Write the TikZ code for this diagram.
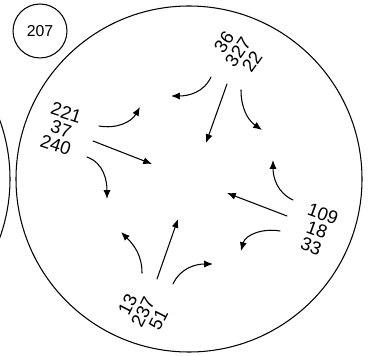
\documentclass[tikz,border=0pt]{standalone}
\usepackage{fontspec}
\setmainfont{Liberation Sans}
\usetikzlibrary{arrows.meta}
\tikzset{
  flow/.style={line width=0.6pt,-{Latex[length=5pt,width=4pt]}},
  lanes/.style={align=center,inner sep=0pt,font=\fontsize{10.5}{9.8}\selectfont},
}
\begin{document}
\begin{tikzpicture}[x=0.02cm,y=0.02cm,line cap=round,line join=round]
  \useasboundingbox (0,0) rectangle (375,355);
  \begin{scope}
    \clip (0,0) rectangle (375,355);
    \draw[line width=0.6pt] (-163,176) circle [radius=173];
  \end{scope}
  \draw[line width=0.6pt] (189,176) circle [radius=173];
  \node[circle,draw,line width=0.6pt,minimum size=1.08cm,inner sep=0pt,font=\fontsize{9}{9}\selectfont] (n207) at (40,324) {207};

  % approach labels
  \node[lanes,rotate=55] (north) at (238,303) {36\\327\\22};
  \node[lanes,rotate=-18] (west) at (61,226) {221\\37\\240};
  \node[lanes,rotate=-20] (east) at (317,125) {109\\18\\33};
  \node[lanes,rotate=63] (south) at (143,43) {13\\237\\51};

  % movement end points
  \coordinate (n1a) at (211,278); \coordinate (n1b) at (171,259);
  \coordinate (n2a) at (227,271); \coordinate (n2b) at (206,212);
  \coordinate (n3a) at (241,265); \coordinate (n3b) at (262,225);
  \coordinate (w1a) at (99,229);  \coordinate (w1b) at (140,248);
  \coordinate (w2a) at (93,214);  \coordinate (w2b) at (152,191);
  \coordinate (w3a) at (87,198);  \coordinate (w3b) at (107,156);
  \coordinate (e1a) at (293,155); \coordinate (e1b) at (273,195);
  \coordinate (e2a) at (287,139); \coordinate (e2b) at (227,162);
  \coordinate (e3a) at (280,124); \coordinate (e3b) at (241,104);
  \coordinate (s1a) at (142,82);  \coordinate (s1b) at (121,123);
  \coordinate (s2a) at (157,76);  \coordinate (s2b) at (178,136);
  \coordinate (s3a) at (173,71);  \coordinate (s3b) at (213,91);

  % movements
  \draw[flow] (n1a) to[out=-115,in=0] (n1b);
  \draw[flow] (n2a) -- (n2b);
  \draw[flow] (n3a) to[out=-90,in=145] (n3b);
  \draw[flow] (w1a) to[out=-10,in=-120] (w1b);
  \draw[flow] (w2a) -- (w2b);
  \draw[flow] (w3a) to[out=-20,in=90] (w3b);
  \draw[flow] (e1a) to[out=155,in=-90] (e1b);
  \draw[flow] (e2a) -- (e2b);
  \draw[flow] (e3a) to[out=170,in=75] (e3b);
  \draw[flow] (s1a) to[out=90,in=-45] (s1b);
  \draw[flow] (s2a) -- (s2b);
  \draw[flow] (s3a) to[out=65,in=180] (s3b);
\end{tikzpicture}
\end{document}
